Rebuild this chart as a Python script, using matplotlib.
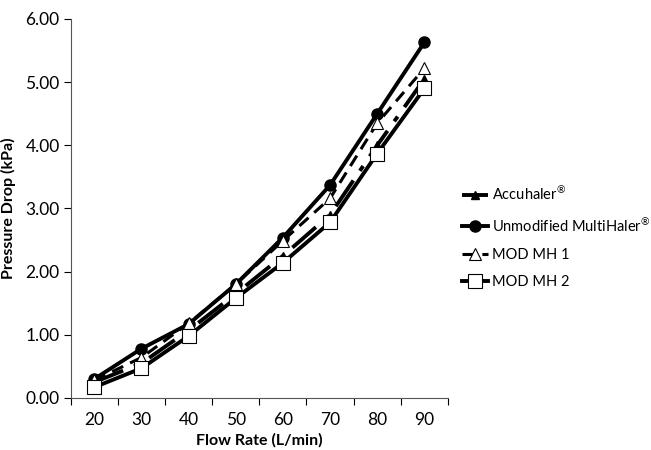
import matplotlib
matplotlib.use("Agg")
import matplotlib.pyplot as plt
import numpy as np

flow = [20, 30, 40, 50, 60, 70, 80, 90]
accuhaler = [0.25, 0.55, 1.07, 1.65, 2.25, 2.90, 4.00, 5.05]
unmodified = [0.30, 0.78, 1.17, 1.80, 2.54, 3.37, 4.50, 5.63]
mod_mh1 = [0.28, 0.64, 1.18, 1.80, 2.49, 3.16, 4.35, 5.22]
mod_mh2 = [0.17, 0.47, 0.98, 1.58, 2.14, 2.78, 3.87, 4.90]
yticks = [0, 1, 2, 3, 4, 5, 6]

plt.rcParams['font.family'] = ['Lato', 'DejaVu Sans']
plt.rcParams['mathtext.fontset'] = 'custom'
plt.rcParams['mathtext.rm'] = 'Lato'
plt.rcParams['mathtext.it'] = 'Lato'
plt.rcParams['mathtext.bf'] = 'Lato:bold'

fig = plt.figure(figsize=(6.51, 4.50), dpi=100)
ax = fig.add_axes([0.1086, 0.1156, 0.5795, 0.8422])

x = np.arange(len(flow))
lw = 2.8
ax.plot(x, accuhaler, color='black', lw=lw, dashes=(8, 3, 1.5, 3), marker='^',
        ms=6, mfc='black', mec='black', label=r'Accuhaler$^{\mathrm{®}}$', zorder=3)
ax.plot(x, unmodified, color='black', lw=lw, marker='o', ms=8, mfc='black',
        mec='black', label=r'Unmodified MultiHaler$^{\mathrm{®}}$', zorder=4)
ax.plot(x, mod_mh1, color='black', lw=2.2, dashes=(4, 2.5), marker='^', ms=9,
        mfc='white', mec='black', mew=0.8, label='MOD MH 1', zorder=5)
ax.plot(x, mod_mh2, color='black', lw=lw, marker='s', ms=10, mfc='white',
        mec='black', mew=0.8, label='MOD MH 2', zorder=6)

ax.set_xlim(-0.5, len(flow) - 0.5)
ax.set_ylim(0, 6)
ax.set_xticks(x)
ax.set_xticklabels([str(f) for f in flow])
ax.set_xticks(np.arange(-0.5, len(flow), 1), minor=True)
ax.tick_params(axis='x', which='major', length=0, pad=10, labelsize=12.5)
ax.tick_params(axis='x', which='minor', length=5, direction='out', width=0.8)
ax.set_yticks(yticks)
ax.set_yticklabels([f"{v:.2f}" for v in yticks])
ax.tick_params(axis='y', length=5, direction='out', width=0.8, labelsize=12.5, pad=3)

for s in ['top', 'right']:
    ax.spines[s].set_visible(False)
for s in ['left', 'bottom']:
    ax.spines[s].set_linewidth(0.8)
    ax.spines[s].set_color('#555555')

ax.set_xlabel('Flow Rate (L/min)', fontsize=11.5, fontweight='bold', labelpad=4)
ax.set_ylabel('Pressure Drop (kPa)', fontsize=11.5, fontweight='bold', labelpad=7)

fig.legend(loc='upper left', bbox_to_anchor=(0.705, 0.594), frameon=False,
           fontsize=10.5, handlelength=1.8, handletextpad=0.25, labelspacing=0.92,
           borderaxespad=0, borderpad=0.2)

fig.savefig('out.png', dpi=100)
